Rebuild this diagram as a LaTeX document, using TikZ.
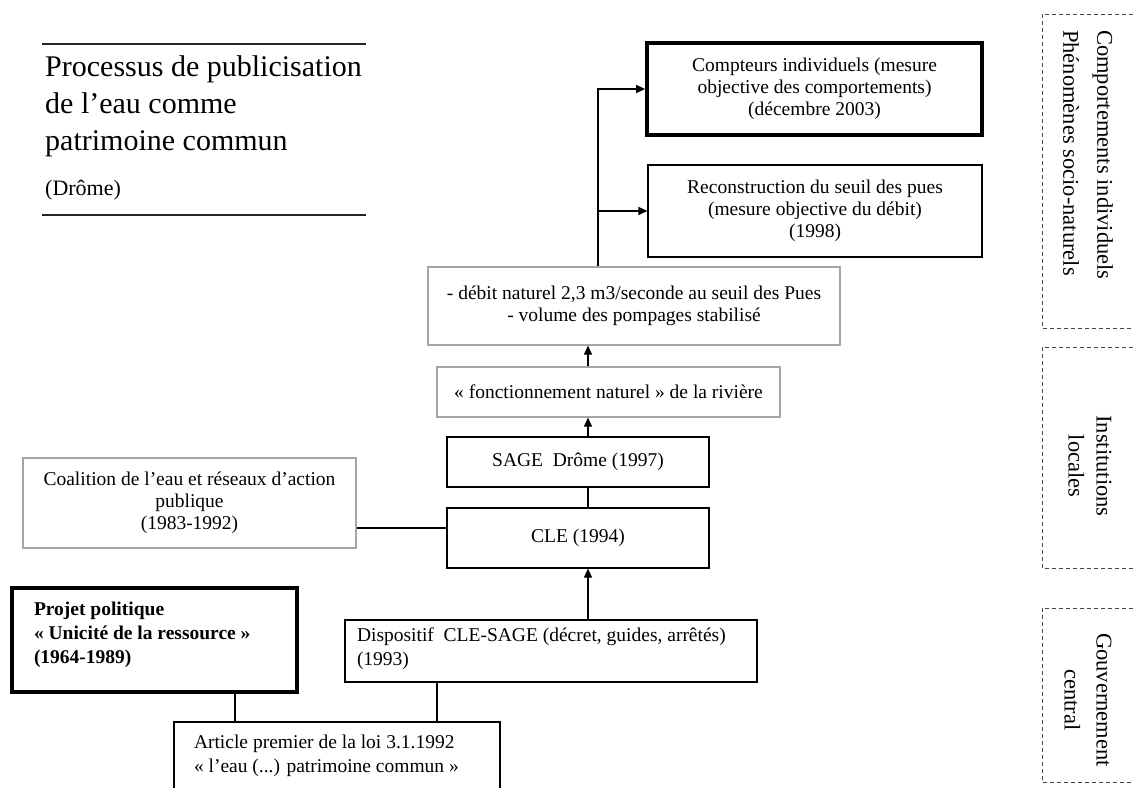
\documentclass[tikz,border=0pt]{standalone}
\usepackage{fontspec}
\setmainfont{Liberation Serif}
\usetikzlibrary{arrows.meta}
\definecolor{graybord}{RGB}{165,165,165}
\definecolor{dashcol}{RGB}{70,70,70}
\newcommand{\shiftedlines}[2]{\raisebox{#1}{\begin{tabular}{@{}c@{}}#2\end{tabular}}}
\begin{document}
\begin{tikzpicture}[x=1pt,y=-1pt,
  box/.style={draw=black, line width=1.2pt, inner sep=0pt, align=center,
    font=\fontsize{19.5}{22}\selectfont},
  graybox/.style={box, draw=graybord},
  thickbox/.style={box, line width=3.8pt},
  arr/.style={-{Triangle[length=9pt,width=8pt]}, line width=1.2pt},
  con/.style={line width=1.2pt},
  rule/.style={line width=1.3pt, draw=black!85},
  side/.style={draw=dashcol, line width=1pt, dash pattern=on 4pt off 3pt},
  sidetext/.style={inner sep=0pt, rotate=-90, font=\fontsize{22.5}{34}\selectfont},
]
\useasboundingbox (0,0) rectangle (1134,787);

% title
\draw[rule] (42,44) -- (366,44);
\draw[rule] (42,215) -- (366,215);
\node[anchor=north west, inner sep=0pt, align=left,
  font=\fontsize{30}{37}\selectfont] (title) at (45,55.5)
  {Processus de publicisation\\de l’eau comme\\patrimoine commun};
\node[anchor=base west, inner sep=0pt, font=\fontsize{22}{26}\selectfont]
  (region) at (45,195) {(Drôme)};

% boxes
\node[thickbox, minimum width=335, minimum height=92] (cpt) at (814.5,89)
  {\shiftedlines{4pt}{Compteurs individuels (mesure\\objective des comportements)\\(décembre 2003)}};
\node[box, minimum width=334, minimum height=92] (rec) at (815,211)
  {\shiftedlines{-4pt}{Reconstruction du seuil des pues\\(mesure objective du débit)\\(1998)}};
\node[graybox, minimum width=412, minimum height=78] (deb) at (634,306)
  {- débit naturel 2,3 m3/seconde au seuil des Pues\\- volume des pompages stabilisé};
\node[graybox, minimum width=343, minimum height=50] (fon) at (608.5,392)
  {«~fonctionnement naturel~» de la rivière};
\node[box, minimum width=262, minimum height=50] (sage) at (578,462)
  {SAGE\ \ Drôme (1997)};
\node[box, minimum width=262, minimum height=60] (cle) at (578,538)
  {CLE (1994)};
\node[graybox, minimum width=333, minimum height=90] (coa) at (189.5,503)
  {Coalition de l’eau et réseaux d’action\\publique\\(1983-1992)};
\node[thickbox, minimum width=285, font=\bfseries\fontsize{19.5}{24}\selectfont] (proj) at (154.5,640)
  {\begin{minipage}[c][104pt][t]{241pt}\raggedright\rule{0pt}{27pt}Projet politique\\«~Unicité de la ressource~»\\(1964-1989)\end{minipage}};
\node[box, minimum width=412, font=\fontsize{19.5}{24}\selectfont] (disp) at (551,651)
  {\begin{minipage}[c][62pt][t]{388pt}\raggedright\rule{0pt}{21pt}Dispositif\ \ CLE-SAGE (décret, guides, arrêtés)\\(1993)\end{minipage}};
\node[box, minimum width=326, font=\fontsize{19.5}{24}\selectfont] (art) at (337,757)
  {\begin{minipage}[c][70pt][t]{286pt}\raggedright\rule{0pt}{26pt}Article premier de la loi 3.1.1992\\«~l’eau (...) patrimoine commun~»\end{minipage}};

% connectors
\coordinate (vx) at (598,0);
\coordinate (ax) at (588,0);
\coordinate (ly) at (0,528);
\coordinate (px) at (235,0);
\coordinate (dx) at (437,0);
\draw[arr] (deb.north -| vx) |- (cpt.west);
\draw[arr] (vx |- rec.west) -- (rec.west);
\draw[arr] (fon.north -| ax) -- (deb.south -| ax);
\draw[arr] (sage.north -| ax) -- (fon.south -| ax);
\draw[con] (sage.south -| ax) -- (cle.north -| ax);
\draw[arr] (disp.north -| ax) -- (cle.south -| ax);
\draw[con] (coa.east |- ly) -- (cle.west |- ly);
\draw[con] (proj.south -| px) -- (art.north -| px);
\draw[con] (disp.south -| dx) -- (art.north -| dx);

% side panels
\draw[side] (1140,14) -- (1042,14) -- (1042,328) -- (1140,328);
\draw[side] (1140,347) -- (1042,347) -- (1042,568) -- (1140,568);
\draw[side] (1140,608) -- (1042,608) -- (1042,782) -- (1140,782);
\node[sidetext, anchor=west, align=left] (s1) at (1088,30)
  {Comportements individuels\\Phénomènes socio-naturels};
\node[sidetext, align=center, font=\fontsize{22.5}{28}\selectfont] (s2) at (1090,466)
  {Institutions\\locales};
\node[sidetext, align=center, font=\fontsize{22.5}{32}\selectfont] (s3) at (1088,700)
  {Gouvernement\\central};
\end{tikzpicture}
\end{document}
